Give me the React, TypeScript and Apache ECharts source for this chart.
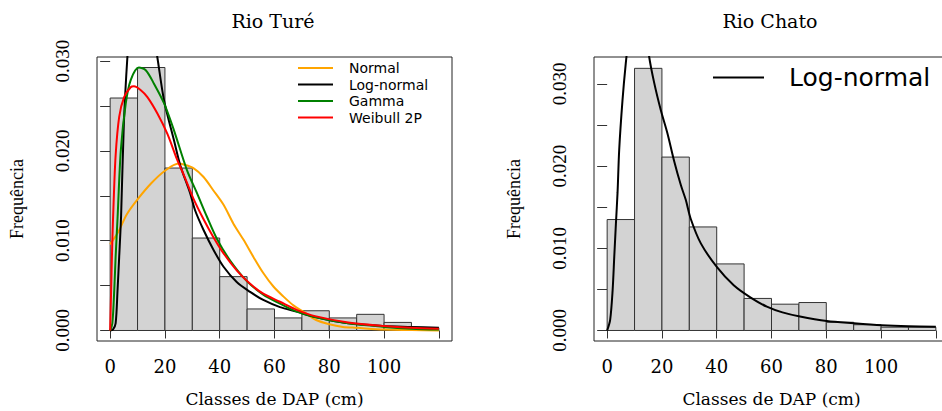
import React, { useEffect, useRef } from "react";
import * as echarts from "echarts";

// Histogram bins (DAP classes, cm)
const binEdges = [0, 10, 20, 30, 40, 50, 60, 70, 80, 90, 100, 110, 120];
const tureHeights = [0.0259, 0.0293, 0.0181, 0.0103, 0.006, 0.0024, 0.0014, 0.0022, 0.0014, 0.0018, 0.0009, 0.0003];
const chatoHeights = [0.0135, 0.0319, 0.0211, 0.0126, 0.0081, 0.0039, 0.0032, 0.0034, 0.001, 0.0007, 0.0004, 0.0004];

// Rio Turé fitted curves
const normalX = [0, 3, 6, 10, 15, 20, 25, 26.8, 30.4, 34.1, 37.7, 41.4, 45, 48.7, 52.3, 55.9, 59.6, 63.2, 66.9, 70.5, 75, 80, 85, 90, 100, 110, 120];
const normalY = [0.0096, 0.011, 0.0129, 0.0146, 0.0164, 0.0178, 0.0186, 0.0185, 0.0181, 0.0171, 0.0156, 0.014, 0.0119, 0.0101, 0.0082, 0.0064, 0.0049, 0.0038, 0.0028, 0.0021, 0.0012, 0.0007, 0.0004, 0.0003, 0.0001, 0.00005, 0];

const lognX = [0, 1, 2, 2.7, 3.3, 4, 5, 6.3, 7.5, 9, 10.5, 12, 14, 17.2, 19.7, 23.3, 25.6, 29.2, 31, 34.1, 37.7, 41.4, 46.2, 51.1, 55.9, 62, 68.1, 74.8, 86.9, 100, 110, 120];
const lognY = [0, 0.0001, 0.0008, 0.0045, 0.0082, 0.0128, 0.023, 0.0305, 0.035, 0.0385, 0.0395, 0.0388, 0.0365, 0.0305, 0.0256, 0.0212, 0.0184, 0.0153, 0.0134, 0.0112, 0.009, 0.0071, 0.0054, 0.0043, 0.0034, 0.0026, 0.0021, 0.0015, 0.0008, 0.0005, 0.0004, 0.0003];

const gammaX = [0, 0.8, 1.5, 2, 2.7, 3.9, 5.7, 7.5, 10.5, 13, 16, 19.7, 23.3, 28, 31.7, 35.3, 39, 43.8, 49.9, 55.9, 62, 68.1, 74.8, 86.9, 100, 110, 120];
const gammaY = [0, 0.0008, 0.0045, 0.0082, 0.0125, 0.0201, 0.0253, 0.0279, 0.0293, 0.029, 0.0275, 0.0253, 0.0223, 0.0179, 0.0153, 0.0127, 0.0102, 0.0078, 0.0055, 0.004, 0.003, 0.0021, 0.0015, 0.0008, 0.0004, 0.0002, 0.0001];

const weibullX = [0, 0.5, 0.8, 1.2, 2, 3.3, 5.1, 7.5, 8.7, 11.1, 13.6, 17.2, 20.9, 24.5, 26.8, 30.4, 34.1, 37.7, 41.4, 46.2, 51.1, 55.9, 62, 68.1, 74.8, 86.9, 100, 110, 120];
const weibullY = [0, 0.0063, 0.01, 0.0137, 0.0195, 0.0238, 0.026, 0.0271, 0.0272, 0.0268, 0.026, 0.0242, 0.0219, 0.019, 0.0174, 0.0147, 0.0124, 0.0104, 0.0086, 0.0067, 0.0052, 0.0041, 0.0032, 0.0023, 0.0016, 0.0009, 0.0005, 0.0003, 0.0002];

// Rio Chato log-normal curve
const chatoX = [0, 1.1, 2, 2.6, 3.2, 3.8, 4.4, 5.6, 6.8, 8, 9.5, 11, 12.5, 14, 15.3, 17.2, 19.6, 22, 24.4, 26.9, 28.7, 30.5, 34.2, 40.1, 46.2, 52.4, 58.3, 64, 70.4, 80.2, 89.9, 100.2, 110, 120];
const chatoY = [0, 0.0013, 0.0049, 0.009, 0.013, 0.0168, 0.022, 0.028, 0.0325, 0.036, 0.039, 0.0402, 0.0395, 0.0372, 0.0334, 0.0301, 0.0268, 0.024, 0.0207, 0.0177, 0.0159, 0.0136, 0.0106, 0.0077, 0.0055, 0.004, 0.0029, 0.0022, 0.0017, 0.00116, 0.00088, 0.00063, 0.0005, 0.00045];

// Axis ticks
const yTickValues = [0, 0.005, 0.01, 0.015, 0.02, 0.025, 0.03];
const yLabelValues = [0, 0.01, 0.02, 0.03];
const xTickValues = [0, 20, 40, 60, 80, 100, 120];
const xLabelValues = [0, 20, 40, 60, 80, 100];

const titles = ["Rio Turé", "Rio Chato"];

const pairs = (xs: number[], ys: number[]) => xs.map((x, i) => [x, ys[i]]);
const histData = (h: number[]) => h.map((v, i) => [binEdges[i], binEdges[i + 1], v]);

const serif = "DejaVu Serif";
const tSerif = "Liberation Serif";

function makeX(i: number) {
  return {
    type: "value",
    gridIndex: i,
    min: -4.8,
    max: 124.8,
    name: "Classes de DAP (cm)",
    nameLocation: "middle",
    nameGap: 49,
    nameTextStyle: { fontFamily: serif, fontSize: 17, color: "#000" },
    axisLine: { show: false },
    axisTick: { show: true, customValues: xTickValues, length: 8, lineStyle: { color: "#333", width: 1 } },
    axisLabel: { customValues: xLabelValues, margin: 16, fontFamily: serif, fontSize: 18, color: "#000", formatter: (v: number) => String(v) },
    splitLine: { show: false },
  };
}

function makeY(i: number, min: number, max: number) {
  return {
    type: "value",
    gridIndex: i,
    min,
    max,
    name: "Frequência",
    nameLocation: "middle",
    nameGap: 71,
    nameTextStyle: { fontFamily: tSerif, fontSize: 18, color: "#000" },
    axisLine: { show: false },
    axisTick: { show: true, customValues: yTickValues, length: 10, lineStyle: { color: "#333", width: 1 } },
    axisLabel: { customValues: yLabelValues, rotate: 90, margin: 25, fontFamily: tSerif, fontSize: 19, color: "#000", formatter: (v: number) => v.toFixed(3) },
    splitLine: { show: false },
  };
}

const renderBar = (params: any, api: any) => {
  const x0 = api.value(0);
  const x1 = api.value(1);
  const h = api.value(2);
  const p0 = api.coord([x0, h]);
  const p1 = api.coord([x1, 0]);
  return {
    type: "rect",
    shape: { x: p0[0], y: p0[1], width: p1[0] - p0[0], height: p1[1] - p0[1] },
    style: { fill: "#D3D3D3", stroke: "#333", lineWidth: 1 },
  };
};

function lineSeries(name: string, color: string, data: number[][], idx: number) {
  return {
    type: "line",
    name,
    xAxisIndex: idx,
    yAxisIndex: idx,
    data,
    symbol: "none",
    smooth: 0.3,
    clip: true,
    lineStyle: { color, width: 2 },
    itemStyle: { color },
    z: 3,
  };
}

const hiddenSymbol = { color: "rgba(0,0,0,0)", borderColor: "rgba(0,0,0,0)", borderWidth: 0, opacity: 0 };

const gridBase = { top: 57, width: 355, height: 284, show: true, borderColor: "#222", borderWidth: 1, backgroundColor: "transparent", containLabel: false, outerBoundsMode: "none" };

export default function App() {
  const ref = useRef<HTMLDivElement>(null);
  useEffect(() => {
    document.body.style.margin = "0";
    if (!ref.current) return;
    const chart = echarts.init(ref.current, null, { renderer: "svg" });
    chart.setOption({
      animation: false,
      backgroundColor: "#fff",
      grid: [
        { ...gridBase, left: 97 },
        { ...gridBase, left: 594 },
      ],
      xAxis: [makeX(0), makeX(1)],
      yAxis: [makeY(0, -0.00117, 0.03047), makeY(1, -0.00128, 0.03328)],
      legend: [
        {
          data: ["Normal", "Log-normal", "Gamma", "Weibull 2P"],
          left: 297,
          top: 60,
          orient: "vertical",
          itemWidth: 35,
          itemHeight: 16,
          itemGap: 0.5,
          padding: 0,
          selectedMode: false,
          itemStyle: hiddenSymbol,
          textStyle: { fontFamily: "DejaVu Sans", fontSize: 14, color: "#000", padding: [0, 0, 0, 11], lineHeight: 16 },
        },
        {
          data: ["Log-normal"],
          left: 712,
          top: 65,
          orient: "vertical",
          itemWidth: 51,
          itemHeight: 24,
          padding: 0,
          selectedMode: false,
          itemStyle: hiddenSymbol,
          textStyle: { fontFamily: "DejaVu Sans", fontSize: 25, color: "#000", padding: [0, 0, 0, 20] },
        },
      ],
      graphic: [
        { type: "text", x: 273, y: 21, style: { text: titles[0], fontFamily: serif, fontSize: 19, fill: "#000", align: "center", verticalAlign: "middle" } },
        { type: "text", x: 770, y: 21, style: { text: titles[1], fontFamily: serif, fontSize: 19, fill: "#000", align: "center", verticalAlign: "middle" } },
      ],
      series: [
        { type: "custom", xAxisIndex: 0, yAxisIndex: 0, data: histData(tureHeights), renderItem: renderBar, encode: { x: [0, 1], y: 2 }, z: 2 },
        lineSeries("Normal", "#FFA500", pairs(normalX, normalY), 0),
        lineSeries("Log-normal", "#000000", pairs(lognX, lognY), 0),
        lineSeries("Gamma", "#008000", pairs(gammaX, gammaY), 0),
        lineSeries("Weibull 2P", "#FF0000", pairs(weibullX, weibullY), 0),
        { type: "custom", xAxisIndex: 1, yAxisIndex: 1, data: histData(chatoHeights), renderItem: renderBar, encode: { x: [0, 1], y: 2 }, z: 2 },
        lineSeries("Log-normal", "#000000", pairs(chatoX, chatoY), 1),
      ],
    });
    return () => chart.dispose();
  }, []);
  return <div ref={ref} style={{ width: 942, height: 411 }} />;
}
